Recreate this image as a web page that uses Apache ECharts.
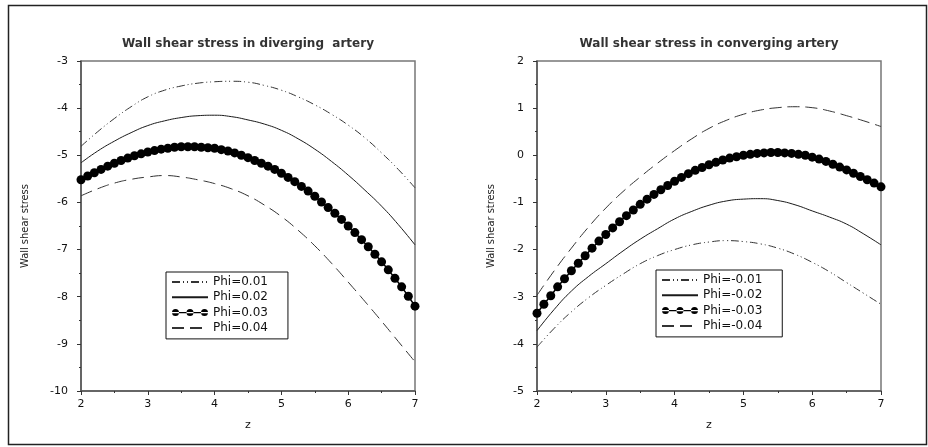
<!DOCTYPE html>
<html>
<head>
<meta charset="utf-8">
<title>Wall shear stress</title>
<script src="https://cdn.jsdelivr.net/npm/echarts@6/dist/echarts.min.js"></script>
<style>
  html, body { margin: 0; padding: 0; background: #fff; }
  #chart { width: 928px; height: 447px; }
</style>
</head>
<body>
<div id="chart"></div>
<script>
// z positions (lines read every 0.25, dotted curve every 0.1)
var zLine = [2, 2.25, 2.5, 2.75, 3, 3.25, 3.5, 3.75, 4, 4.25, 4.5, 4.75, 5, 5.25, 5.5, 5.75, 6, 6.25, 6.5, 6.75, 7];
var zDots = [2.0, 2.1, 2.2, 2.3, 2.4, 2.5, 2.6, 2.7, 2.8, 2.9,
             3.0, 3.1, 3.2, 3.3, 3.4, 3.5, 3.6, 3.7, 3.8, 3.9,
             4.0, 4.1, 4.2, 4.3, 4.4, 4.5, 4.6, 4.7, 4.8, 4.9,
             5.0, 5.1, 5.2, 5.3, 5.4, 5.5, 5.6, 5.7, 5.8, 5.9,
             6.0, 6.1, 6.2, 6.3, 6.4, 6.5, 6.6, 6.7, 6.8, 6.9, 7.0];

// diverging artery
var divNames = ['Phi=0.01', 'Phi=0.02', 'Phi=0.03', 'Phi=0.04'];
var div01 = [-4.81, -4.50, -4.22, -3.97, -3.76, -3.62, -3.53, -3.47, -3.44, -3.43, -3.45, -3.52, -3.62, -3.76, -3.93, -4.13, -4.36, -4.63, -4.95, -5.30, -5.69];
var div02 = [-5.16, -4.91, -4.70, -4.52, -4.37, -4.27, -4.20, -4.16, -4.15, -4.18, -4.25, -4.34, -4.47, -4.65, -4.87, -5.13, -5.42, -5.74, -6.08, -6.47, -6.90];
var div03 = [-5.52, -5.44, -5.37, -5.30, -5.23, -5.17, -5.11, -5.06, -5.01, -4.97,
             -4.93, -4.90, -4.87, -4.85, -4.83, -4.82, -4.82, -4.82, -4.83, -4.84,
             -4.85, -4.88, -4.91, -4.95, -5.00, -5.05, -5.11, -5.17, -5.23, -5.30,
             -5.38, -5.47, -5.56, -5.66, -5.76, -5.87, -5.99, -6.11, -6.23, -6.36,
             -6.50, -6.64, -6.79, -6.94, -7.10, -7.26, -7.43, -7.61, -7.79, -7.99, -8.20];
var div04 = [-5.86, -5.71, -5.59, -5.51, -5.46, -5.43, -5.46, -5.52, -5.60, -5.71, -5.86, -6.06, -6.30, -6.59, -6.92, -7.29, -7.69, -8.10, -8.52, -8.95, -9.38];

// converging artery
var conNames = ['Phi=-0.01', 'Phi=-0.02', 'Phi=-0.03', 'Phi=-0.04'];
var con01 = [-4.07, -3.67, -3.32, -3.02, -2.76, -2.52, -2.30, -2.13, -2.00, -1.90, -1.84, -1.81, -1.83, -1.88, -1.97, -2.10, -2.27, -2.47, -2.70, -2.93, -3.16];
var con02 = [-3.72, -3.27, -2.88, -2.57, -2.30, -2.03, -1.78, -1.56, -1.35, -1.19, -1.06, -0.97, -0.93, -0.92, -0.96, -1.05, -1.18, -1.31, -1.46, -1.67, -1.90];
var con03 = [-3.35, -3.16, -2.98, -2.79, -2.62, -2.45, -2.29, -2.13, -1.97, -1.82,
             -1.68, -1.54, -1.41, -1.28, -1.16, -1.04, -0.93, -0.83, -0.73, -0.64,
             -0.55, -0.47, -0.39, -0.32, -0.26, -0.20, -0.15, -0.10, -0.06, -0.03,
             0.00, 0.02, 0.04, 0.05, 0.06, 0.06, 0.05, 0.04, 0.02, 0.00,
             -0.04, -0.08, -0.13, -0.19, -0.25, -0.31, -0.38, -0.45, -0.52, -0.59, -0.67];
var con04 = [-2.97, -2.45, -1.97, -1.52, -1.12, -0.77, -0.46, -0.17, 0.10, 0.35, 0.57, 0.74, 0.87, 0.96, 1.01, 1.03, 1.01, 0.94, 0.84, 0.73, 0.61];

var ink = '#1a1a1a';
var axisGray = '#555';
var numFont = 'DejaVu Sans';
var narrowFont = "'Liberation Sans Narrow', 'DejaVu Sans Condensed', 'Liberation Sans', sans-serif";

// legend sample for the dotted curve: a line with three dots
var threeDots = 'path://M0,5.3L36,5.3L36,6.7L0,6.7Z' +
  'M0,6A3.5,3.5,0,1,0,7,6A3.5,3.5,0,1,0,0,6Z' +
  'M14.5,6A3.5,3.5,0,1,0,21.5,6A3.5,3.5,0,1,0,14.5,6Z' +
  'M29,6A3.5,3.5,0,1,0,36,6A3.5,3.5,0,1,0,29,6Z';

function pairs(xs, ys) {
  return xs.map(function (x, i) { return [x, ys[i]]; });
}

function plainLine(name, idx, xs, ys, dash, color) {
  return {
    name: name,
    type: 'line',
    xAxisIndex: idx,
    yAxisIndex: idx,
    data: pairs(xs, ys),
    smooth: true,
    symbol: 'none',
    silent: true,
    lineStyle: { color: color || ink, width: 1, type: dash }
  };
}

function dotLine(name, idx, xs, ys) {
  return {
    name: name,
    type: 'line',
    xAxisIndex: idx,
    yAxisIndex: idx,
    data: pairs(xs, ys),
    symbol: 'circle',
    symbolSize: 9,
    showSymbol: true,
    silent: true,
    itemStyle: { color: '#000' },
    lineStyle: { color: '#000', width: 1.5 }
  };
}

function xAxisFor(idx) {
  return {
    type: 'value', gridIndex: idx, min: 2, max: 7, interval: 1,
    name: 'z', nameLocation: 'middle', nameGap: 29,
    nameTextStyle: { fontFamily: numFont, fontSize: 11, color: '#111' },
    axisLine: { onZero: false, lineStyle: { color: axisGray, width: 1.5 } },
    axisTick: { length: 4, lineStyle: { color: '#333', width: 1 } },
    minorTick: { show: true, splitNumber: 2, length: 2, lineStyle: { color: '#333', width: 1 } },
    axisLabel: { margin: 8, fontFamily: numFont, fontSize: 11, color: '#111' },
    splitLine: { show: false }
  };
}

function yAxisFor(idx, lo, hi, gap) {
  return {
    type: 'value', gridIndex: idx, min: lo, max: hi, interval: 1,
    name: 'Wall shear stress', nameLocation: 'middle', nameGap: gap, nameRotate: 90,
    nameTextStyle: { fontFamily: narrowFont, fontSize: 11, color: '#222' },
    axisLine: { onZero: false, lineStyle: { color: axisGray, width: 1.5 } },
    axisTick: { length: 4, lineStyle: { color: '#333', width: 1 } },
    minorTick: { show: true, splitNumber: 2, length: 2, lineStyle: { color: '#333', width: 1 } },
    axisLabel: { margin: 13, fontFamily: numFont, fontSize: 11, color: '#111' },
    splitLine: { show: false }
  };
}

// plain lines get no marker in the legend; the dotted one shows three dots
function legendFor(names, left, top, padRight) {
  var items = names.map(function (n, i) {
    return i === 2 ? { name: n, icon: threeDots } : { name: n, itemStyle: { opacity: 0 } };
  });
  return {
    orient: 'vertical', left: left, top: top,
    data: items,
    itemWidth: 36, itemHeight: 12, itemGap: 3.3,
    symbolKeepAspect: true,
    padding: [4, padRight, 5, 5],
    borderColor: '#111', borderWidth: 1, backgroundColor: '#fff',
    selectedMode: false,
    textStyle: { fontFamily: numFont, fontSize: 12, color: '#111' }
  };
}

var dashDotDot = [8, 3, 1, 3, 1, 3];
var longDash = [12, 6];

var chart = echarts.init(document.getElementById('chart'));
chart.setOption({
  backgroundColor: '#fff',
  animation: false,
  title: [
    { text: 'Wall shear stress in diverging  artery', left: 248, top: 38, padding: 0, textAlign: 'center',
      textStyle: { fontFamily: numFont, fontSize: 12, fontWeight: 'bold', color: '#333' } },
    { text: 'Wall shear stress in converging artery', left: 709, top: 38, padding: 0, textAlign: 'center',
      textStyle: { fontFamily: numFont, fontSize: 12, fontWeight: 'bold', color: '#333' } }
  ],
  grid: [
    { left: 81, top: 61, width: 334, height: 330, show: true, borderColor: '#777', borderWidth: 1.5 },
    { left: 537, top: 61, width: 344, height: 330, show: true, borderColor: '#777', borderWidth: 1.5 }
  ],
  xAxis: [xAxisFor(0), xAxisFor(1)],
  yAxis: [yAxisFor(0, -10, -3, 50), yAxisFor(1, -5, 2, 40)],
  legend: [
    legendFor(divNames, 166, 272, 20),
    legendFor(conNames, 656, 270, 20)
  ],
  series: [
    plainLine(divNames[0], 0, zLine, div01, dashDotDot, '#333'),
    plainLine(divNames[1], 0, zLine, div02, 'solid'),
    dotLine(divNames[2], 0, zDots, div03),
    plainLine(divNames[3], 0, zLine, div04, longDash, '#333'),
    plainLine(conNames[0], 1, zLine, con01, dashDotDot, '#333'),
    plainLine(conNames[1], 1, zLine, con02, 'solid'),
    dotLine(conNames[2], 1, zDots, con03),
    plainLine(conNames[3], 1, zLine, con04, longDash, '#333')
  ],
  graphic: [
    { type: 'rect', silent: true, z: -10,
      shape: { x: 8.5, y: 5.5, width: 918, height: 439 },
      style: { fill: 'none', stroke: '#222', lineWidth: 1.5 } }
  ]
});
</script>
</body>
</html>
